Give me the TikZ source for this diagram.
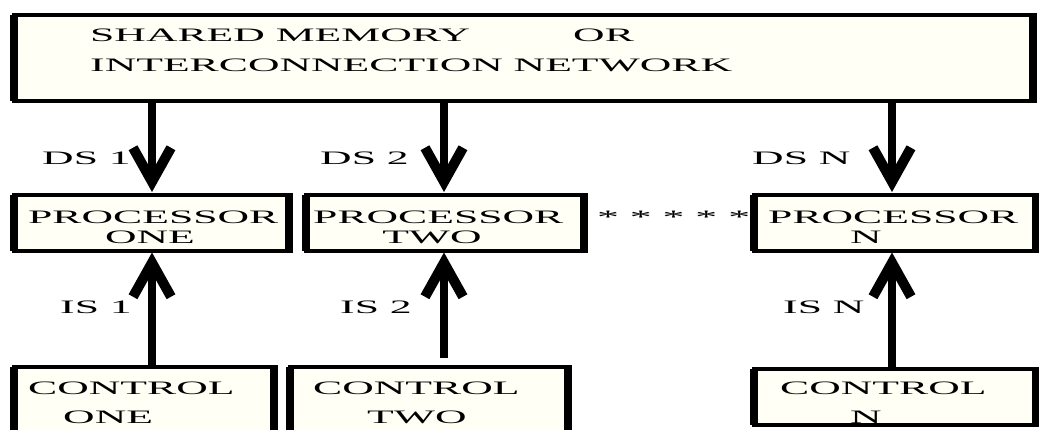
\documentclass[tikz,border=0pt]{standalone}
\usepackage{fontspec}
\newfontfamily\bmf[FakeStretch=2.3]{Liberation Serif}
\usetikzlibrary{arrows.meta}
\definecolor{boxfill}{RGB}{255,255,246}
\newcommand\drawbox[5]{%
  \node[box, minimum width={(#4-#2)*1pt}, minimum height={(#5-#3)*1pt}] (#1) at ({(#2+#4)/2},{(#3+#5)/2}) {};
  \draw[side] (#1.north west) -- (#1.south west) (#1.north east) -- (#1.south east);}
\begin{document}
\begin{tikzpicture}[x=1pt,y=-1pt,
  box/.style={draw, line width=4pt, fill=boxfill, inner sep=0pt, outer sep=0pt},
  side/.style={line width=8pt, shorten <=-2pt, shorten >=-2pt},
  lbl/.style={font=\bmf\fontsize{19}{19}\selectfont, inner sep=0pt, text height=12.6pt, text depth=0pt, anchor=west},
  flow/.style={line width=8pt, -{Straight Barb[length=34pt,width=38pt,line width=10pt]}}
]
\useasboundingbox (0,0) rectangle (1039,430);
\clip (0,0) rectangle (1039,430);
\fill[white] (0,0) rectangle (1039,430);
% boxes
\drawbox{top}{13.5}{15}{1033}{101}
\drawbox{p1}{14}{195}{289}{251.5}
\drawbox{p2}{306}{195}{584}{251.5}
\drawbox{pn}{754}{195}{1036}{251.5}
\drawbox{c1}{14}{367}{274}{445}
\drawbox{c2}{290}{367}{568}{445}
\drawbox{cn}{754}{369}{1036}{425}
% columns
\coordinate (a1) at (152,0);
\coordinate (a2) at (444,0);
\coordinate (an) at (892,0);
\coordinate (is2) at (444,358);
% data streams
\draw[flow, shorten >=3pt] (top.south -| a1) -- (p1.north -| a1);
\draw[flow, shorten >=3pt] (top.south -| a2) -- (p2.north -| a2);
\draw[flow, shorten >=3pt] (top.south -| an) -- (pn.north -| an);
% instruction streams
\draw[flow, shorten >=1pt] (c1.north -| a1) -- (p1.south -| a1);
\draw[flow, shorten >=1pt] (is2) -- (p2.south -| is2);
\draw[flow, shorten >=1pt] (cn.north -| an) -- (pn.south -| an);
% texts
\node[lbl] (t1) at (90,35) {SHARED MEMORY};
\node[lbl] (t2) at (573,35) {OR};
\node[lbl] (t3) at (90,65) {INTERCONNECTION NETWORK};
\node[lbl] (ds1) at (42,158) {DS 1};
\node[lbl] (ds2) at (320,158) {DS 2};
\node[lbl] (dsn) at (752,158) {DS N};
\node[lbl] (p1a) at (28,217) {PROCESSOR};
\node[lbl, anchor=center] (p1b) at (150,237) {ONE};
\node[lbl] (p2a) at (313,217) {PROCESSOR};
\node[lbl, anchor=center] (p2b) at (432,237) {TWO};
\node[lbl] (pna) at (768,217) {PROCESSOR};
\node[lbl, anchor=center] (pnb) at (866,237) {N};
\node[lbl] (dots) at (597,217) {* * * * *};
\node[lbl] (is1l) at (60,307) {IS 1};
\node[lbl] (is2l) at (340,307) {IS 2};
\node[lbl] (isnl) at (783,307) {IS N};
\node[lbl] (c1a) at (28,388) {CONTROL};
\node[lbl] (c1b) at (63,417) {ONE};
\node[lbl] (c2a) at (313,388) {CONTROL};
\node[lbl] (c2b) at (367,417) {TWO};
\node[lbl] (cna) at (780,388) {CONTROL};
\node[lbl] (cnb) at (850,417) {N};
\end{tikzpicture}
\end{document}
